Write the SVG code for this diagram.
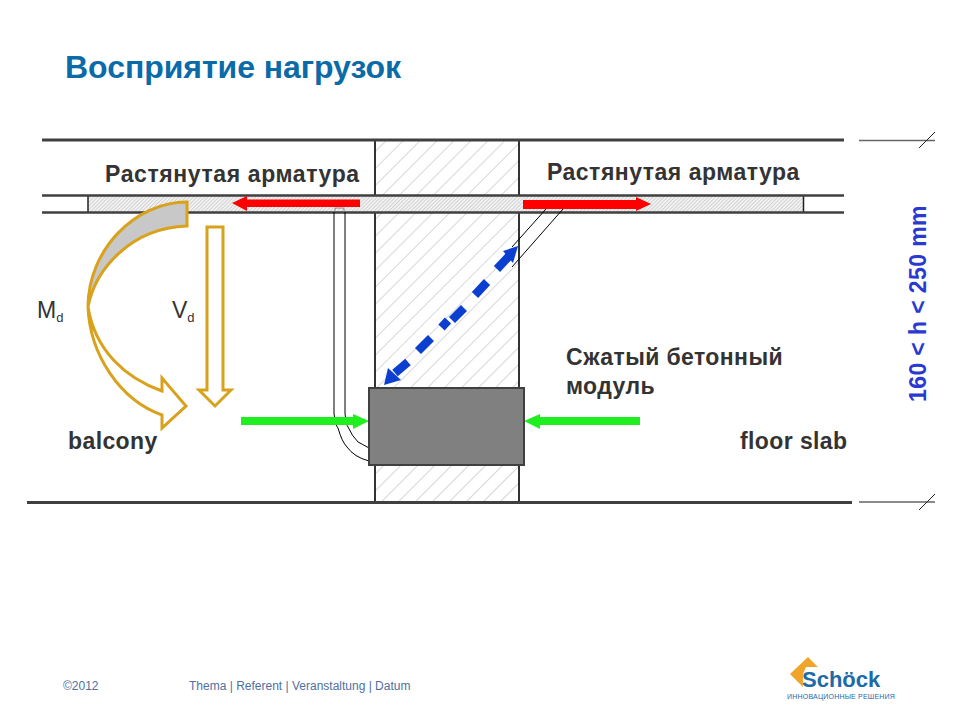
<svg xmlns="http://www.w3.org/2000/svg" width="960" height="720" viewBox="0 0 960 720">
<style>
text{font-family:"Liberation Sans",Arial,sans-serif}
.lb{font-weight:bold;font-size:23px;fill:#333;letter-spacing:.4px}
.sm{font-size:12px;fill:#4f6f9f}
.ln{stroke:#404040;fill:none}
.au{fill:#fff;stroke:#d8a21c;stroke-width:3;stroke-linejoin:miter}
.th{stroke:#000;stroke-width:1;fill:none}
.bl{stroke:#0b3fd0;stroke-width:8.5;fill:none}
</style>
<defs>
<pattern id="h1" width="12" height="12" patternUnits="userSpaceOnUse" patternTransform="rotate(45)"><rect width="12" height="12" fill="#fff"/><line x1="0" y1="0" x2="0" y2="12" stroke="#bdbdbd" stroke-width="1.2"/></pattern>
<pattern id="h2" width="2.6" height="2.6" patternUnits="userSpaceOnUse" patternTransform="rotate(45)"><rect width="2.6" height="2.6" fill="#f2f2f2"/><line x1="0" y1="0" x2="0" y2="2.6" stroke="#b5b5b5" stroke-width="1"/></pattern>
</defs>
<rect width="960" height="720" fill="#fff"/>
<text id="title" x="65" y="78" font-size="32" font-weight="bold" fill="#0b6aa8" textLength="336">Восприятие нагрузок</text>
<g id="column">
<rect x="375" y="140" width="144" height="55" fill="url(#h1)"/>
<rect x="375" y="213" width="144" height="289" fill="url(#h1)"/>
<path class="th" d="M375 140V195M519 140V195M375 213V502M519 213V502" style="stroke-width:1.600"/>
</g>
<g id="bar">
<rect x="88" y="196" width="715" height="16" fill="url(#h2)"/>
<path d="M88 196V212M803.500 196V212" stroke="#222" stroke-width="1.500" fill="none"/>
</g>
<g id="slab-lines">
<path class="ln" d="M42 140H844M27 502.500H852" style="stroke-width:3"/>
<path class="ln" style="stroke-width:2.500" d="M42 195.500H844M42 212.500H844"/>
</g>
<g id="dimensions">
<path d="M859 140.500H935M859 502H935" stroke="#666" stroke-width="1.500" fill="none"/>
<path d="M919 148L935 132M919 510L935 494" stroke="#222" stroke-width="1" fill="none"/>
</g>
<g id="connectors">
<g id="rebars">
<path class="th" d="M334 212V413Q335 425 338 428Q342 442 347 447Q354 457 369 461"/>
<path class="th" d="M345 212V413Q346 425 348 427Q352 436 358 442Q362 444 369 448"/>
<path d="M335 212V208H344V212" stroke="#777" stroke-width=".8" fill="none"/>
<path class="th" d="M546 209L512 247M563 209L512 267"/>
</g>
<polygon fill="#f00" points="232,203 247,196 247,199.500 360,199.500 360,207 247,207 247,211"/>
<polygon fill="#f00" points="651,204 636,197 636,200 523,200 523,209 636,209 636,211"/>
<polygon fill="#1fef1f" points="369,421 353,414 353,417 241,417 241,425 353,425 353,429"/>
<polygon fill="#1fef1f" points="524,421 540,414 540,417 640,417 640,425 540,425 540,429"/>
<g id="compression">
<path class="bl" d="M497 269L511 254M475 295L487 282M452 320L464 308M441.500 327.500L448 320.500M418 351L431 338M395 373L408 362"/>
<polygon fill="#0b3fd0" points="518,246 503,251 513,263"/>
<polygon fill="#0b3fd0" points="384,385 388,368 401,380"/>
</g>
</g>
<g id="module"><rect x="369" y="388" width="155" height="77" fill="#808080" stroke="#404040" stroke-width="2"/></g>
<g id="md-arrow">
<path class="au" d="M88 307C90 355 120 400 162 415L162 428L186 406L162 378L162 391C125 378 95 350 88 307Z"/>
<path d="M187 202C135 202 88 250 88 307C95 270 130 228 187 226Z" fill="#c8c8c8" stroke="#d8a21c" stroke-width="3"/>
</g>
<g id="vd-arrow"><polygon class="au" points="207,227 223,227 223,390 231,390 215,406 199,390 207,390"/></g>
<g id="labels">
<text class="lb" x="105" y="182" style="letter-spacing:.6px">Растянутая арматура</text>
<text class="lb" x="547" y="180" style="letter-spacing:.5px">Растянутая арматура</text>
<text class="lb" x="566" y="365">Сжатый бетонный</text>
<text class="lb" x="566" y="394">модуль</text>
<text class="lb" x="68" y="449">balcony</text>
<text class="lb" x="740" y="449">floor slab</text>
<text x="37" y="318" font-size="23" fill="#333">M<tspan font-size="13" dy="4">d</tspan></text>
<text x="172" y="318" font-size="23" fill="#333">V<tspan font-size="13" dy="4">d</tspan></text>
<text transform="translate(926 402) rotate(-90)" font-size="23" font-weight="bold" fill="#2a3ad0" letter-spacing=".4">160 &lt; h &lt; 250 mm</text>
</g>
<g id="footer">
<text class="sm" x="63" y="690">©2012</text>
<text class="sm" x="189" y="690">Thema | Referent | Veranstaltung | Datum</text>
</g>
<g id="logo">
<polygon fill="#f0a52a" points="790,674 808,657 818,667 806,667 803,674 803,687"/>
<text x="802" y="687" font-size="22" font-weight="bold" fill="#1c6aa8">Schöck</text>
<text x="787" y="699" font-size="7" fill="#1c6aa8" letter-spacing=".2">ИННОВАЦИОННЫЕ РЕШЕНИЯ</text>
</g>
</svg>
